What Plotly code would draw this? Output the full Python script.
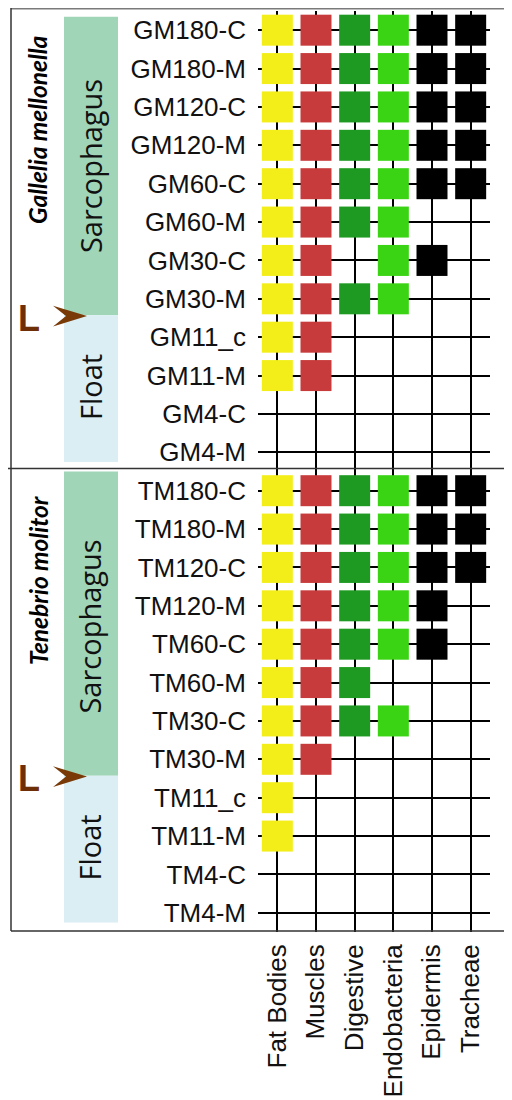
import plotly.graph_objects as go

# ---------------- data ----------------
tissues = ["Fat Bodies", "Muscles", "Digestive", "Endobacteria", "Epidermis", "Tracheae"]
tissue_colors = ["#F3EE1A", "#C83B3C", "#1E9A22", "#3AD414", "#000000", "#000000"]

gm_rows = ["GM180-C", "GM180-M", "GM120-C", "GM120-M", "GM60-C", "GM60-M",
           "GM30-C", "GM30-M", "GM11_c", "GM11-M", "GM4-C", "GM4-M"]
tm_rows = ["TM180-C", "TM180-M", "TM120-C", "TM120-M", "TM60-C", "TM60-M",
           "TM30-C", "TM30-M", "TM11_c", "TM11-M", "TM4-C", "TM4-M"]

# presence (1) / absence (0) per tissue, GM rows then TM rows
fat_bodies   = [1,1,1,1,1,1,1,1,1,1,0,0,  1,1,1,1,1,1,1,1,1,1,0,0]
muscles      = [1,1,1,1,1,1,1,1,1,1,0,0,  1,1,1,1,1,1,1,1,0,0,0,0]
digestive    = [1,1,1,1,1,1,0,1,0,0,0,0,  1,1,1,1,1,1,1,0,0,0,0,0]
endobacteria = [1,1,1,1,1,1,1,1,0,0,0,0,  1,1,1,1,1,0,1,0,0,0,0,0]
epidermis    = [1,1,1,1,1,0,1,0,0,0,0,0,  1,1,1,1,1,0,0,0,0,0,0,0]
tracheae     = [1,1,1,1,1,0,0,0,0,0,0,0,  1,1,1,0,0,0,0,0,0,0,0,0]
presence = [fat_bodies, muscles, digestive, endobacteria, epidermis, tracheae]

species = ["Gallelia mellonella", "Tenebrio molitor"]

# ---------------- layout geometry ----------------
OFF = 8  # page body margin
W, H = 512 - OFF, 1100 - OFF
ml, mr, mt, mb = 258 - OFF, 22, 11 - OFF, 163
pw, ph = W - ml - mr, H - mt - mb


def px_x(p):
    return (p - OFF - ml) / pw


def px_y(p):
    return (OFF + H - mb - p) / ph


rows = gm_rows + tm_rows
n = len(rows)

fig = go.Figure()
for ti, (name, col, pres) in enumerate(zip(tissues, tissue_colors, presence)):
    ys = [i for i, v in enumerate(pres) if v]
    fig.add_trace(go.Scatter(
        x=[ti] * len(ys), y=ys, mode="markers", name=name,
        marker=dict(symbol="square", size=31, color=col, line=dict(width=0)),
        hoverinfo="skip", showlegend=False,
    ))

shapes = []
band_green = "#A0D5B7"
band_blue = "#DAEEF3"
for off in (0, 12):
    top = -0.35 if off == 0 else 11.5
    shapes.append(dict(type="rect", xref="paper", yref="y", x0=px_x(64), x1=px_x(118),
                       y0=top, y1=off + 7.43, fillcolor=band_green, line=dict(width=0), layer="below"))
    shapes.append(dict(type="rect", xref="paper", yref="y", x0=px_x(64), x1=px_x(118),
                       y0=off + 7.43, y1=off + 11.25, fillcolor=band_blue, line=dict(width=0), layer="below"))
    yc = off + 7.45
    hh = 0.27
    path = (f"M {px_x(53)},{yc - hh} L {px_x(87)},{yc} L {px_x(53)},{yc + hh} "
            f"L {px_x(66)},{yc} Z")
    shapes.append(dict(type="path", xref="paper", yref="y", path=path,
                       fillcolor="#7A3A08", line=dict(width=0)))

frame = "#333333"
shapes += [
    dict(type="line", xref="paper", yref="paper", x0=px_x(11), x1=px_x(520), y0=px_y(8.5), y1=px_y(8.5),
         line=dict(color="#7a7a7a", width=2)),
    dict(type="line", xref="paper", yref="paper", x0=px_x(11), x1=px_x(11), y0=px_y(8), y1=px_y(936),
         line=dict(color=frame, width=1.5)),
    dict(type="line", xref="paper", yref="paper", x0=px_x(8), x1=px_x(520), y0=px_y(471), y1=px_y(471),
         line=dict(color=frame, width=1.5)),
    dict(type="line", xref="paper", yref="paper", x0=px_x(11), x1=px_x(520), y0=px_y(936), y1=px_y(936),
         line=dict(color=frame, width=1.5)),
]

annotations = []
for k, off in enumerate((0, 12)):
    common = dict(xref="paper", yref="y", showarrow=False, xanchor="center", yanchor="middle")
    annotations.append(dict(text="Sarcophagus", x=px_x(90), y=off + 3.54, textangle=-90,
                            font=dict(family="Open Sans", size=29, color="#111111"), **common))
    annotations.append(dict(text="Float", x=px_x(90), y=off + 9.3, textangle=-90,
                            font=dict(family="Open Sans", size=29, color="#111111"), **common))
    annotations.append(dict(text=f"<b><i>{species[k]}</i></b>", x=px_x(38),
                            y=off + (2.6 if k == 0 else 2.33), textangle=-90,
                            font=dict(family="Lato", size=24.5, color="#000000"), **common))
    annotations.append(dict(text="<b>L</b>", x=px_x(29), y=off + 7.5,
                            font=dict(family="Liberation Sans, Arial", size=36, color="#6E2E06"), **common))

fig.update_layout(
    width=W, height=H,
    margin=dict(l=ml, r=mr, t=mt, b=mb, pad=0),
    paper_bgcolor="white", plot_bgcolor="white",
    shapes=shapes, annotations=annotations,
    xaxis=dict(range=[-0.5, 5.5], tickvals=list(range(len(tissues))), ticktext=tissues,
               tickangle=-90, showgrid=True, gridcolor="black", gridwidth=2,
               zeroline=False, showline=False, ticks="", ticklabelstandoff=6,
               tickfont=dict(family="Liberation Sans, Arial", size=26, color="#111111")),
    yaxis=dict(range=[n - 0.5, -0.5], tickvals=list(range(n)), ticktext=rows,
               showgrid=True, gridcolor="black", gridwidth=2,
               zeroline=False, showline=False, ticks="", ticklabelstandoff=11,
               tickfont=dict(family="Liberation Sans, Arial", size=26, color="#111111")),
)

fig.write_html("out.html")
